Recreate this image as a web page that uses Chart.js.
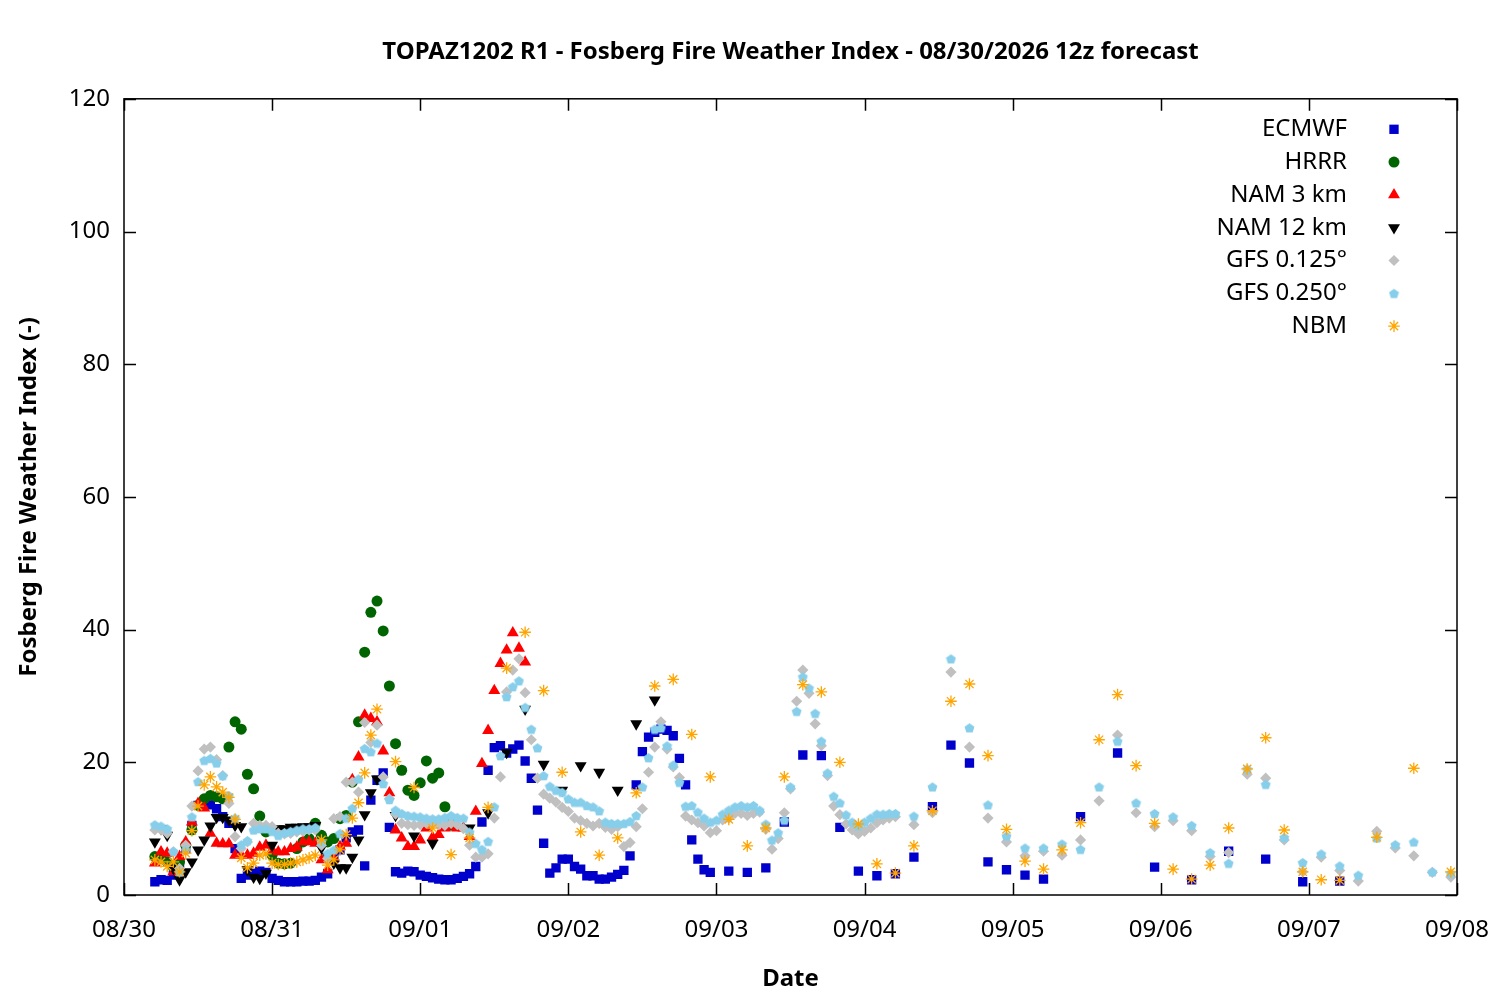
<!DOCTYPE html>
<html>
<head>
<meta charset="utf-8">
<title>TOPAZ1202 R1 - Fosberg Fire Weather Index</title>
<script src="https://cdn.jsdelivr.net/npm/chart.js@4.4.1/dist/chart.umd.min.js"></script>
<style>
  html, body { margin: 0; padding: 0; background: #fff; }
  #wrap { width: 1500px; height: 1000px; }
</style>
</head>
<body>
<div id="wrap"><canvas id="fwiChart" width="1500" height="1000"></canvas></div>
<script>
(function() {

// x = hours since 08/30 00:00 local, y = Fosberg index
var DAY_LABELS = ['08/30', '08/31', '09/01', '09/02', '09/03', '09/04', '09/05', '09/06', '09/07', '09/08'];

var ECMWF = [
    [5,2.0],[6,2.3],[7,2.2],[8,3.0],[9,4.5],[10,7.0],[11,10.5],[12,13.5],[13,14.0],[14,13.6],
    [15,13.0],[16,11.8],[17,10.8],[18,7.0],[19,2.5],[20,3.0],[21,3.3],[22,3.6],[23,3.4],[24,2.5],
    [25,2.2],[26,2.0],[27,2.0],[28,2.0],[29,2.1],[30,2.1],[31,2.2],[32,2.7],[33,3.2],[34,5.5],
    [35,6.8],[36,8.6],[37,9.5],[38,9.8],[39,4.4],[40,14.3],[41,17.3],[42,18.4],[43,10.2],[44,3.5],
    [45,3.3],[46,3.6],[47,3.5],[48,3.0],[49,2.8],[50,2.6],[51,2.4],[52,2.3],[53,2.3],[54,2.5],
    [55,2.8],[56,3.2],[57,4.3],[58,11.0],[59,18.8],[60,22.2],[61,22.5],[62,21.4],[63,22.0],[64,22.6],
    [65,20.2],[66,17.6],[67,12.8],[68,7.8],[69,3.3],[70,4.1],[71,5.4],[72,5.4],[73,4.3],[74,3.9],
    [75,2.9],[76,2.9],[77,2.4],[78,2.4],[79,2.7],[80,3.1],[81,3.7],[82,5.9],[83,16.6],[84,21.6],
    [85,23.8],[86,24.5],[87,25.0],[88,24.8],[89,24.0],[90,20.6],[91,16.6],[92,8.3],[93,5.4],[94,3.8],
    [95,3.4],[98,3.6],[101,3.4],[104,4.1],[107,11.0],[110,21.1],[113,21.0],[116,10.2],[119,3.6],[122,2.9],
    [125,3.2],[128,5.7],[131,13.3],[134,22.6],[137,19.9],[140,5.0],[143,3.8],[146,3.0],[149,2.4],
    [155,11.8],[161,21.4],[167,4.2],[173,2.3],[179,6.6],[185,5.4],[191,2.0],[197,2.1]
];

var HRRR = [
    [5,5.8],[6,5.5],[7,5.0],[8,4.2],[9,5.0],[10,7.5],[11,9.8],[12,13.5],[13,14.5],[14,15.0],
    [15,14.8],[16,14.5],[17,22.3],[18,26.1],[19,25.0],[20,18.2],[21,16.0],[22,11.9],[23,9.5],[24,6.0],
    [25,4.8],[26,4.7],[27,4.8],[28,7.0],[29,8.0],[30,8.5],[31,10.8],[32,9.0],[33,8.0],[34,8.5],
    [35,11.5],[36,12.0],[37,17.0],[38,26.1],[39,36.6],[40,42.6],[41,44.3],[42,39.8],[43,31.5],[44,22.8],
    [45,18.8],[46,15.8],[47,15.0],[48,16.9],[49,20.2],[50,17.6],[51,18.4],[52,13.3],[53,10.5]
];

var NAM3 = [
    [5,4.8],[6,6.5],[7,6.3],[8,3.5],[9,5.8],[10,8.0],[11,11.0],[12,13.8],[13,13.1],[14,9.3],
    [15,7.8],[16,7.7],[17,7.7],[18,6.0],[19,6.0],[20,6.0],[21,6.3],[22,7.2],[23,7.5],[24,6.8],
    [25,6.5],[26,6.5],[27,7.0],[28,7.2],[29,8.0],[30,8.0],[31,7.8],[32,5.3],[33,3.8],[34,5.5],
    [35,7.3],[36,7.8],[37,17.4],[38,20.8],[39,27.1],[40,26.6],[41,26.1],[42,21.7],[43,15.4],[44,9.8],
    [45,8.6],[46,7.3],[47,7.3],[48,8.3],[49,10.1],[50,8.7],[51,9.1],[52,10.1],[53,10.4],[54,10.1],
    [55,10.1],[56,8.8],[57,12.6],[58,19.8],[59,24.8],[60,30.8],[61,34.9],[62,36.9],[63,39.5],[64,37.2],
    [65,35.1]
];

var NAM12 = [
    [5,8.0],[6,10.0],[7,9.0],[8,4.0],[9,2.3],[10,3.5],[11,5.0],[12,6.8],[13,8.3],[14,10.4],
    [15,11.7],[16,11.7],[17,11.3],[18,10.5],[19,10.3],[20,3.8],[21,2.7],[22,2.5],[23,3.3],[24,7.5],
    [25,10.0],[26,10.0],[27,10.2],[28,10.2],[29,10.3],[30,10.3],[31,10.5],[32,7.1],[33,5.8],[34,4.8],
    [35,4.1],[36,4.1],[37,5.7],[38,8.3],[39,12.1],[40,15.4],[41,17.5],
    [44,12.0],[47,8.9],[50,7.8],[53,11.5],[56,10.1],[59,12.4],[62,21.5],[65,28.0],[68,19.7],
    [71,15.8],[74,19.5],[77,18.5],[80,15.8],[83,25.8],[86,29.4]
];

var GFS125 = [
    [5,9.8],[6,9.8],[7,9.3],[8,6.5],[9,4.0],[10,7.5],[11,13.4],[12,18.7],[13,22.0],[14,22.3],
    [15,20.4],[16,18.0],[17,13.8],[18,8.8],[19,7.0],[20,8.0],[21,10.8],[22,10.5],[23,10.5],[24,10.3],
    [25,9.3],[26,9.2],[27,9.3],[28,9.5],[29,9.6],[30,9.8],[31,9.8],[32,7.5],[33,5.5],[34,11.5],
    [35,11.8],[36,17.0],[37,17.0],[38,15.5],[39,26.0],[40,23.0],[41,25.6],[42,17.8],[43,14.5],[44,12.2],
    [45,10.8],[46,10.6],[47,10.5],[48,10.6],[49,10.8],[50,10.8],[51,10.6],[52,10.5],[53,10.8],[54,10.6],
    [55,10.0],[56,7.5],[57,5.7],[58,5.7],[59,6.2],[60,11.6],[61,17.8],[62,30.6],[63,33.9],[64,35.6],
    [65,30.5],[66,23.4],[67,17.6],[68,15.2],[69,14.6],[70,14.0],[71,13.2],[72,12.6],[73,11.6],[74,11.2],
    [75,10.8],[76,10.4],[77,10.8],[78,10.2],[79,9.9],[80,10.3],[81,7.3],[82,7.9],[83,10.3],[84,13.0],
    [85,18.5],[86,22.3],[87,26.1],[88,22.0],[89,19.3],[90,17.7],[91,11.9],[92,11.3],[93,10.9],[94,10.4],
    [95,9.4],[96,9.7],[97,11.3],[98,11.6],[99,12.3],[100,12.3],[101,12.0],[102,12.3],[103,12.5],[104,9.9],
    [105,6.9],[106,8.5],[107,12.4],[108,16.0],[109,29.2],[110,33.9],[111,30.4],[112,25.8],[113,22.5],[114,18.0],
    [115,13.4],[116,12.1],[117,10.7],[118,9.8],[119,9.2],[120,9.6],[121,10.1],[122,10.9],[123,11.3],[124,11.6],
    [125,11.8],[128,10.6],[131,12.4],[134,33.6],[137,22.3],[140,11.6],[143,8.0],[146,5.9],[149,6.6],[152,6.0],
    [155,8.3],[158,14.2],[161,24.1],[164,12.4],[167,10.3],[170,11.2],[173,9.7],[176,5.8],[179,6.4],[182,18.2],
    [185,17.6],[188,8.3],[191,3.5],[194,5.7],[197,3.7],[200,2.1],[203,9.6],[206,7.1],[209,5.9],[212,3.4],
    [215,2.7]
];

var GFS250 = [
    [5,10.6],[6,10.4],[7,10.0],[8,6.6],[9,3.5],[10,6.8],[11,11.8],[12,17.1],[13,20.3],[14,20.6],
    [15,19.9],[16,18.0],[17,15.0],[18,11.6],[19,7.6],[20,8.2],[21,9.8],[22,10.0],[23,10.0],[24,9.6],
    [25,9.0],[26,9.4],[27,9.6],[28,9.8],[29,10.0],[30,10.0],[31,10.2],[32,8.0],[33,6.3],[34,6.8],
    [35,9.3],[36,11.6],[37,13.1],[38,17.5],[39,22.1],[40,21.6],[41,22.9],[42,16.8],[43,14.4],[44,12.8],
    [45,12.3],[46,12.0],[47,11.9],[48,11.8],[49,11.6],[50,11.5],[51,11.5],[52,11.7],[53,12.0],[54,11.7],
    [55,11.6],[56,9.5],[57,7.8],[58,6.9],[59,8.1],[60,13.3],[61,21.0],[62,29.9],[63,31.4],[64,32.3],
    [65,28.3],[66,25.0],[67,22.2],[68,18.0],[69,16.4],[70,15.8],[71,15.5],[72,14.5],[73,14.0],[74,14.0],
    [75,13.5],[76,13.3],[77,12.7],[78,11.0],[79,10.8],[80,10.8],[81,10.8],[82,11.1],[83,12.0],[84,16.3],
    [85,20.7],[86,25.0],[87,25.2],[88,22.5],[89,19.6],[90,17.0],[91,13.4],[92,13.5],[93,12.5],[94,11.6],
    [95,11.0],[96,11.3],[97,12.2],[98,12.8],[99,13.3],[100,13.5],[101,13.3],[102,13.5],[103,12.8],[104,10.7],
    [105,8.3],[106,9.4],[107,11.3],[108,16.3],[109,27.7],[110,32.9],[111,31.2],[112,27.4],[113,23.2],[114,18.4],
    [115,14.9],[116,13.9],[117,12.1],[118,11.0],[119,10.4],[120,11.0],[121,11.6],[122,12.2],[123,12.2],[124,12.3],
    [125,12.3],[128,11.9],[131,16.3],[134,35.6],[137,25.2],[140,13.6],[143,8.9],[146,7.1],[149,7.1],[152,7.7],
    [155,6.9],[158,16.3],[161,23.2],[164,13.9],[167,12.3],[170,11.8],[173,10.5],[176,6.4],[179,4.8],[182,19.0],
    [185,16.7],[188,8.7],[191,4.9],[194,6.2],[197,4.4],[200,3.0],[203,8.6],[206,7.6],[209,8.0],[212,3.5],
    [215,3.3]
];

var NBM = [
    [5,5.3],[6,5.0],[7,4.3],[8,5.0],[9,3.5],[10,6.3],[11,9.7],[12,13.4],[13,16.6],[14,17.8],
    [15,16.3],[16,15.5],[17,14.7],[18,11.4],[19,5.6],[20,4.1],[21,4.8],[22,6.0],[23,6.2],[24,4.8],
    [25,4.6],[26,4.6],[27,4.8],[28,5.0],[29,5.3],[30,5.6],[31,6.0],[32,8.3],[33,4.5],[34,5.3],
    [35,6.8],[36,9.1],[37,11.6],[38,13.9],[39,18.4],[40,24.1],[41,28.0],
    [44,20.1],[47,16.2],[50,10.1],[53,6.1],[56,8.6],[59,13.2],[62,34.2],[65,39.6],[68,30.8],[71,18.5],
    [74,9.5],[77,6.0],[80,8.6],[83,15.4],[86,31.5],[89,32.5],[92,24.2],[95,17.8],[98,11.4],[101,7.4],
    [104,10.1],[107,17.8],[110,31.7],[113,30.6],[116,20.0],[119,10.7],[122,4.7],[125,3.3],[128,7.4],[131,12.7],
    [134,29.2],[137,31.8],[140,21.0],[143,9.9],[146,5.1],[149,3.9],[152,6.8],[155,10.9],[158,23.4],[161,30.2],
    [164,19.5],[167,10.8],[170,3.9],[173,2.4],[176,4.5],[179,10.1],[182,19.0],[185,23.7],[188,9.8],[191,3.5],
    [194,2.3],[197,2.2],[203,8.7],[209,19.1],[215,3.5]
];

var FONT = '"Noto Sans", "Open Sans", sans-serif';

function pentagon(size, color) {
    var c = document.createElement('canvas');
    c.width = size;
    c.height = size;
    var g = c.getContext('2d');
    var r = size / 2;
    g.fillStyle = color;
    g.beginPath();
    for (var i = 0; i < 5; i++) {
        var a = -Math.PI / 2 + i * 2 * Math.PI / 5;
        var px = r + Math.cos(a) * (r - 0.3);
        var py = r + 0.6 + Math.sin(a) * (r - 0.3);
        if (i === 0) g.moveTo(px, py); else g.lineTo(px, py);
    }
    g.closePath();
    g.fill();
    return c;
}

function pts(pairs) {
    return pairs.map(function(p) { return { x: p[0], y: p[1] }; });
}

function series(label, pairs, style, color, radius, extra) {
    var ds = {
        label: label,
        data: pts(pairs),
        pointStyle: style,
        pointRadius: radius,
        pointBackgroundColor: color,
        pointBorderColor: color,
        pointBorderWidth: 0,
        pointRotation: 0,
        showLine: false
    };
    for (var k in (extra || {})) ds[k] = extra[k];
    return ds;
}

var pent = pentagon(11, '#87ceeb');

var datasets = [
    series('ECMWF', ECMWF, 'rect', '#0000cc', 6.6, { order: 6 }),
    series('HRRR', HRRR, 'circle', '#006400', 5.5, { order: 5 }),
    series('NAM 3 km', NAM3, 'triangle', '#ff0000', 6.9, { order: 4 }),
    series('NAM 12 km', NAM12, 'triangle', '#000000', 6.9, { order: 3, pointRotation: 180 }),
    series('GFS 0.125\u00b0', GFS125, 'rectRot', '#c0c0c0', 5.6, { order: 2 }),
    series('GFS 0.250\u00b0', GFS250, pent, '#87ceeb', 6, { order: 1 }),
    series('NBM', NBM, 'star', '#ffa500', 5.8, { order: 0, pointBorderWidth: 1.3 })
];

// inward tick marks and the border box
var framePlugin = {
    id: 'frame',
    afterDatasetsDraw: function(chart) {
        var ctx = chart.ctx, a = chart.chartArea;
        var xs = chart.scales.x, ys = chart.scales.y;
        var len = 12;
        ctx.save();
        ctx.strokeStyle = '#000';
        ctx.lineWidth = 1.5;
        ctx.beginPath();
        ys.ticks.forEach(function(t) {
            var y = Math.round(ys.getPixelForValue(t.value)) + 0.5;
            ctx.moveTo(a.left, y); ctx.lineTo(a.left + len, y);
            ctx.moveTo(a.right, y); ctx.lineTo(a.right - len, y);
        });
        xs.ticks.forEach(function(t) {
            var x = Math.round(xs.getPixelForValue(t.value)) + 0.5;
            ctx.moveTo(x, a.bottom); ctx.lineTo(x, a.bottom - len);
            ctx.moveTo(x, a.top); ctx.lineTo(x, a.top + len);
        });
        ctx.stroke();
        ctx.strokeRect(a.left, a.top, a.right - a.left, a.bottom - a.top);
        ctx.restore();
    }
};

// key in the top right corner: label, then marker to its right
var keyPlugin = {
    id: 'key',
    afterDraw: function(chart) {
        var ctx = chart.ctx, a = chart.chartArea;
        ctx.save();
        ctx.font = '24px ' + FONT;
        ctx.textAlign = 'right';
        ctx.textBaseline = 'middle';
        chart.data.datasets.forEach(function(ds, i) {
            var y = a.top + 30.5 + i * 32.8;
            ctx.fillStyle = '#000';
            ctx.fillText(ds.label, a.right - 110, y);
            ctx.fillStyle = ds.pointBackgroundColor;
            ctx.strokeStyle = ds.pointBorderColor;
            ctx.lineWidth = ds.pointBorderWidth || 1;
            Chart.helpers.drawPoint(ctx, {
                pointStyle: ds.pointStyle,
                rotation: ds.pointRotation || 0,
                radius: ds.pointRadius,
                borderWidth: ds.pointBorderWidth
            }, a.right - 63, y);
        });
        ctx.restore();
    }
};

Chart.defaults.font.family = FONT;
Chart.defaults.font.size = 24;
Chart.defaults.color = '#000';

new Chart(document.getElementById('fwiChart'), {
    type: 'scatter',
    data: { datasets: datasets },
    options: {
        responsive: false,
        animation: false,
        events: [],
        layout: { padding: { left: 0, right: 43, top: 0, bottom: 0 } },
        plugins: {
            legend: { display: false },
            tooltip: { enabled: false },
            title: {
                display: true,
                fullSize: false,
                text: 'TOPAZ1202 R1 - Fosberg Fire Weather Index - 08/30/2026 12z forecast',
                font: { size: 24, weight: 'bold' },
                color: '#000',
                padding: { top: 38, bottom: 32 }
            }
        },
        scales: {
            x: {
                type: 'linear',
                min: 0,
                max: 216,
                grid: { display: false, drawTicks: false },
                border: { display: false },
                ticks: {
                    stepSize: 24,
                    autoSkip: false,
                    maxRotation: 0,
                    padding: 21,
                    callback: function(v) { return DAY_LABELS[Math.round(v / 24)]; }
                },
                title: {
                    display: true,
                    text: 'Date',
                    font: { size: 24, weight: 'bold' },
                    padding: { top: 0, bottom: 6 }
                },
                afterFit: function(s) {
                    s.height = 105;
                    s.paddingLeft = 0;
                    s.paddingRight = 0;
                }
            },
            y: {
                min: 0,
                max: 120,
                grid: { display: false, drawTicks: false },
                border: { display: false },
                ticks: { stepSize: 20, padding: 14 },
                title: {
                    display: true,
                    text: 'Fosberg Fire Weather Index (-)',
                    font: { size: 24, weight: 'bold' },
                    padding: { top: 15, bottom: 0 }
                },
                afterFit: function(s) { s.width = 124; }
            }
        }
    },
    plugins: [framePlugin, keyPlugin]
});

})();
</script>
</body>
</html>
